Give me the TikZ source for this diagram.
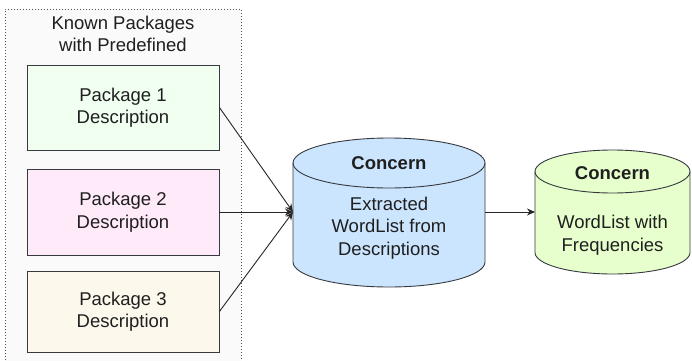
\documentclass[tikz,border=0pt]{standalone}
\usepackage{fontspec}
\setmainfont{Liberation Sans}
\usetikzlibrary{arrows.meta}
\definecolor{groupfill}{HTML}{FAFAFA}
\definecolor{groupline}{HTML}{555555}
\definecolor{stroke}{HTML}{36393D}
\definecolor{pkgA}{HTML}{F0FFF0}
\definecolor{pkgB}{HTML}{FFEAFA}
\definecolor{pkgC}{HTML}{FDF8EC}
\definecolor{dbA}{HTML}{CCE5FF}
\definecolor{dbB}{HTML}{E6FFCC}
\tikzset{
  txt/.style={font=\fontsize{18.5}{22.5}\selectfont, align=center, text=black!88},
  pkgbox/.style={txt, draw=stroke, line width=0.9pt, minimum width=192pt, inner sep=0pt},
  dbline/.style={draw=stroke, line width=0.9pt},
  flow/.style={draw=black!85, line width=0.9pt, -{Stealth[length=8pt,width=7pt]}},
}
\begin{document}
\begin{tikzpicture}[x=1pt,y=1pt]
\useasboundingbox (0,0) rectangle (692,360);
% group container
\path[fill=groupfill, draw=groupline, line width=0.7pt, dash pattern=on 0.8pt off 2.2pt]
  (5,-3) rectangle (241,351);
\node[txt] (title) at (123,326) {Known Packages\\with Predefined};

% package boxes
\node[pkgbox, fill=pkgA, minimum height=85pt] (p1) at (123,252.5) {Package 1\\Description};
\node[pkgbox, fill=pkgB, minimum height=86pt] (p2) at (123,148) {Package 2\\Description};
\node[pkgbox, fill=pkgC, minimum height=81pt] (p3) at (123,48.5) {Package 3\\Description};

% first store
\path[dbline, fill=dbA] (293,197) -- (293,98)
  arc[start angle=180, end angle=360, x radius=96, y radius=25] -- (485,197)
  arc[start angle=0, end angle=180, x radius=96, y radius=25] -- cycle;
\path[dbline] (293,197) arc[start angle=180, end angle=360, x radius=96, y radius=25];
\node[txt, font=\fontsize{18.5}{22.5}\selectfont\bfseries] (c1head) at (389,197) {Concern};
\node[txt] (c1body) at (389,132) {Extracted\\WordList from\\Descriptions};
\coordinate (c1in) at (293,148);
\coordinate (c1out) at (485,148);

% second store
\path[dbline, fill=dbB] (535,188.5) -- (535,107.5)
  arc[start angle=180, end angle=360, x radius=77.5, y radius=21.5] -- (690,188.5)
  arc[start angle=0, end angle=180, x radius=77.5, y radius=21.5] -- cycle;
\path[dbline] (535,188.5) arc[start angle=180, end angle=360, x radius=77.5, y radius=21.5];
\node[txt, font=\fontsize{18.5}{22.5}\selectfont\bfseries] (c2head) at (612.5,187) {Concern};
\node[txt] (c2body) at (612.5,125) {WordList with\\Frequencies};
\coordinate (c2in) at (535,148);

% connectors
\draw[flow] (p1.east) -- (c1in);
\draw[flow] (p2.east) -- (c1in);
\draw[flow] (p3.east) -- (c1in);
\draw[flow] (c1out) -- (c2in);
\end{tikzpicture}
\end{document}
